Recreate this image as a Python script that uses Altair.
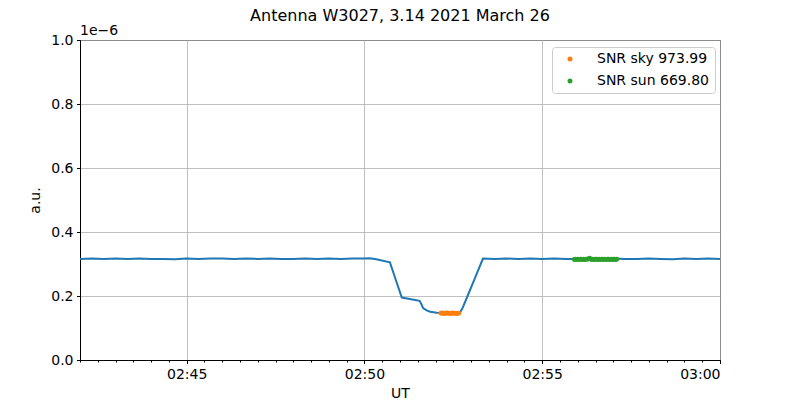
import altair as alt
import pandas as pd

# Blue line: time (UT) and signal in units of 1e-6 a.u.
line_times = [
    "02:42:00", "02:42:20", "02:42:40", "02:43:00", "02:43:20", "02:43:40",
    "02:44:00", "02:44:20", "02:44:40", "02:45:00", "02:45:20", "02:45:40",
    "02:46:00", "02:46:20", "02:46:40", "02:47:00", "02:47:20", "02:47:40",
    "02:48:00", "02:48:20", "02:48:40", "02:49:00", "02:49:20", "02:49:40",
    "02:50:00", "02:50:09", "02:50:20", "02:50:43", "02:50:53", "02:51:03",
    "02:51:33", "02:51:36", "02:51:39", "02:51:45", "02:51:51", "02:52:02",
    "02:52:20", "02:52:41", "02:52:45", "02:52:54", "02:53:07", "02:53:20",
    "02:53:40", "02:54:00", "02:54:20", "02:54:40", "02:55:00", "02:55:20",
    "02:55:40", "02:56:00", "02:56:20", "02:56:40", "02:57:00", "02:57:20",
    "02:57:40", "02:58:00", "02:58:20", "02:58:40", "02:59:00", "02:59:20",
    "02:59:40", "03:00:00",
]
line_values = [
    0.316, 0.317, 0.316, 0.317, 0.316, 0.317,
    0.316, 0.316, 0.315, 0.317, 0.316, 0.317,
    0.317, 0.316, 0.317, 0.316, 0.317, 0.316,
    0.316, 0.317, 0.316, 0.317, 0.316, 0.317,
    0.317, 0.318, 0.315, 0.305, 0.250, 0.195,
    0.185, 0.175, 0.162, 0.155, 0.151, 0.148,
    0.147, 0.148, 0.160, 0.200, 0.258, 0.317,
    0.316, 0.317, 0.316, 0.317, 0.316, 0.317,
    0.316, 0.316, 0.317, 0.316, 0.317, 0.316,
    0.316, 0.317, 0.316, 0.315, 0.317, 0.316,
    0.317, 0.316,
]

# Orange points (sky)
sky_times = [
    "02:52:09", "02:52:11", "02:52:13", "02:52:15", "02:52:17", "02:52:19",
    "02:52:21", "02:52:23", "02:52:25", "02:52:27", "02:52:29", "02:52:31",
    "02:52:33", "02:52:35", "02:52:37", "02:52:39",
]
sky_values = [
    0.146, 0.147, 0.146, 0.145, 0.146, 0.147, 0.146, 0.146,
    0.145, 0.146, 0.147, 0.146, 0.146, 0.145, 0.146, 0.146,
]

# Green points (sun)
sun_times = [
    "02:55:54", "02:55:56", "02:55:58", "02:56:00", "02:56:02", "02:56:04",
    "02:56:06", "02:56:08", "02:56:10", "02:56:12", "02:56:14", "02:56:16",
    "02:56:18", "02:56:20", "02:56:22", "02:56:24", "02:56:26", "02:56:28",
    "02:56:30", "02:56:32", "02:56:34", "02:56:36", "02:56:38", "02:56:40",
    "02:56:42", "02:56:44", "02:56:46", "02:56:48", "02:56:50", "02:56:52",
    "02:56:54", "02:56:56", "02:56:58", "02:57:00", "02:57:02", "02:57:04",
    "02:57:06",
]
sun_values = [
    0.314, 0.315, 0.314, 0.315, 0.314, 0.315, 0.315, 0.314, 0.315, 0.314,
    0.315, 0.315, 0.316, 0.318, 0.315, 0.314, 0.315, 0.314, 0.315, 0.315,
    0.314, 0.315, 0.314, 0.315, 0.315, 0.314, 0.315, 0.314, 0.315, 0.315,
    0.314, 0.315, 0.314, 0.315, 0.315, 0.314, 0.315,
]

legend_labels = ["SNR sky 973.99", "SNR sun 669.80"]
legend_colors = ["#ff7f0e", "#2ca02c"]
title_text = "Antenna W3027, 3.14 2021 March 26"
x_range = ["02:42:00", "03:00:00"]
major_ticks = ["02:45:00", "02:50:00", "02:55:00", "03:00:00"]
y_ticks = [0.0, 0.2, 0.4, 0.6, 0.8, 1.0]

FONT = "DejaVu Sans"


def secs(hms):
    h, m, s = (int(v) for v in hms.split(":"))
    return h * 3600 + m * 60 + s


line_df = pd.DataFrame({"t": [secs(t) for t in line_times], "value": line_values})
pts_df = pd.DataFrame({
    "t": [secs(t) for t in sky_times] + [secs(t) for t in sun_times],
    "value": sky_values + sun_values,
    "series": [legend_labels[0]] * len(sky_times) + [legend_labels[1]] * len(sun_times),
})

x0, x1 = secs(x_range[0]), secs(x_range[1])
minor_ticks = list(range(x0, x1 + 1, 30))

x_scale = alt.Scale(domain=[x0, x1], nice=False, zero=False)
y_scale = alt.Scale(domain=[0, 1], nice=False)
lbl = "utcFormat(datum.value * 1000, '%H:%M')"

x_major = alt.Axis(
    values=[secs(t) for t in major_ticks], labelExpr=lbl, title="UT", grid=True,
    tickSize=3.5, labelPadding=3.5, orient="bottom", titlePadding=5,
)
y_axis = alt.Axis(
    values=y_ticks, format=".1f", title="a.u.", grid=True, tickSize=3.5,
    labelPadding=3.5, titlePadding=8,
)

minor = alt.Chart(line_df).mark_line(opacity=0).encode(
    x=alt.X("t:Q", scale=x_scale, axis=alt.Axis(
        values=minor_ticks, labels=False, grid=False, domain=False, tickSize=2,
        title="", orient="bottom")),
    y=alt.Y("value:Q", scale=y_scale, axis=y_axis),
)

line = alt.Chart(line_df).mark_line(color="#1f77b4", strokeWidth=2).encode(
    x=alt.X("t:Q", scale=x_scale, axis=x_major),
    y=alt.Y("value:Q", scale=y_scale),
)

points = alt.Chart(pts_df).mark_point(filled=True, size=24, opacity=1).encode(
    x=alt.X("t:Q", scale=x_scale, axis=None),
    y=alt.Y("value:Q", scale=y_scale),
    color=alt.Color("series:N", scale=alt.Scale(domain=legend_labels, range=legend_colors),
                    legend=alt.Legend(title=None, orient="none", legendX=472, legendY=7)),
)

offset_txt = alt.Chart(pd.DataFrame({"s": ["1e\u22126"]})).mark_text(
    align="left", baseline="alphabetic", fontSize=14, font=FONT
).encode(text="s:N", x=alt.value(0), y=alt.value(-5))

title_txt = alt.Chart(pd.DataFrame({"s": [title_text]})).mark_text(
    align="center", baseline="alphabetic", fontSize=16, font=FONT
).encode(text="s:N", x=alt.value(320), y=alt.value(-19))

chart = alt.layer(minor, line, points, offset_txt, title_txt).resolve_axis(
    x="independent"
).properties(
    width=640, height=320,
    autosize=alt.AutoSizeParams(type="none"),
    padding={"left": 72, "top": 32, "right": 64, "bottom": 40},
).configure_view(stroke="black", strokeWidth=1).configure_axis(
    labelFont=FONT, titleFont=FONT, labelFontSize=14, titleFontSize=14,
    titleFontWeight="normal", labelColor="black", titleColor="black",
    domainColor="black", tickColor="black", gridColor="#b0b0b0", gridWidth=0.8,
    domainWidth=1, tickWidth=1,
).configure_legend(
    labelFont=FONT, labelFontSize=14, labelColor="black", strokeColor="#cccccc",
    fillColor="white", cornerRadius=3, padding=5, rowPadding=8, symbolType="circle",
    symbolSize=25, symbolStrokeWidth=0, symbolOffset=6, labelOffset=20,
)

chart.save("out.html", embed_options={"renderer": "svg", "actions": False})
